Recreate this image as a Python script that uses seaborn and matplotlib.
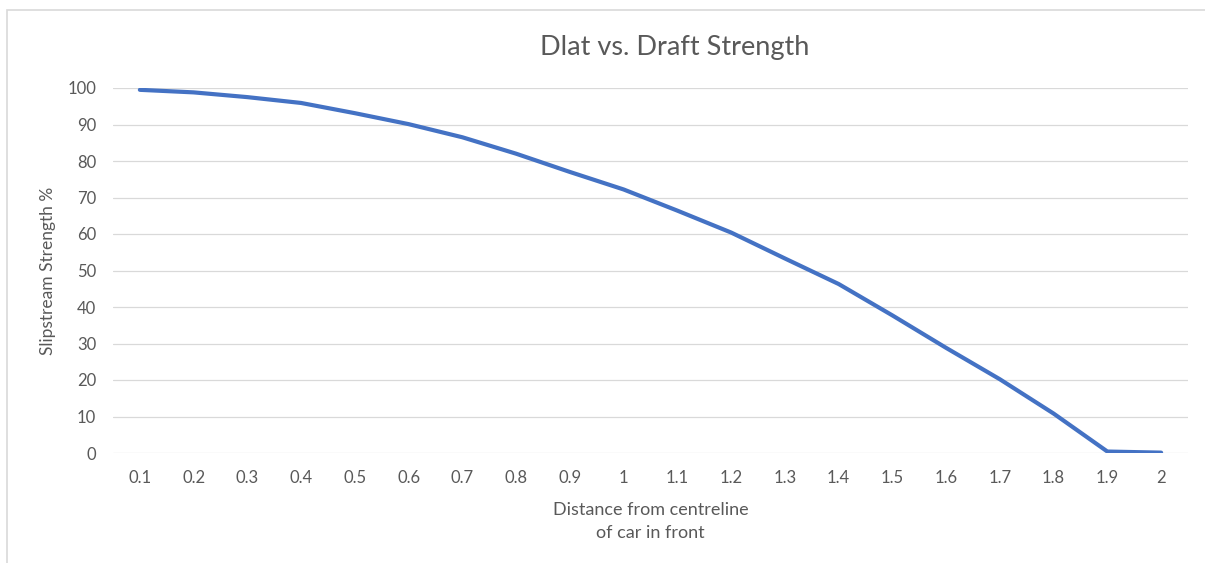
import pandas as pd
import matplotlib
matplotlib.use("Agg")
import matplotlib.pyplot as plt
import seaborn as sns
from matplotlib.patches import Rectangle

# Datos
distancias = ['0.1', '0.2', '0.3', '0.4', '0.5', '0.6', '0.7', '0.8', '0.9', '1',
              '1.1', '1.2', '1.3', '1.4', '1.5', '1.6', '1.7', '1.8', '1.9', '2']
fuerza = [99.5, 98.8, 97.5, 95.9, 93.1, 90.1, 86.5, 82.0, 77.0, 72.2,
          66.4, 60.4, 53.3, 46.3, 37.7, 28.8, 20.2, 10.8, 0.4, 0.1]
y_ticks = [0, 10, 20, 30, 40, 50, 60, 70, 80, 90, 100]

df = pd.DataFrame({'dist': distancias, 'strength': fuerza})

sns.set_theme(style='white')
plt.rcParams['font.family'] = ['Lato', 'DejaVu Sans']
gris = '#595959'

fig = plt.figure(figsize=(12.05, 5.63), dpi=100)
ax = fig.add_axes([113/1205, 1 - 453/563, (1188 - 113)/1205, (453 - 88)/563])

sns.lineplot(data=df, x='dist', y='strength', ax=ax, color='#4472C4',
             linewidth=3.0, sort=False)

ax.set_xlim(-0.5, len(distancias) - 0.5)
ax.set_ylim(0, 100)
ax.set_yticks(y_ticks)
ax.yaxis.grid(True, color='#D9D9D9', linewidth=0.9)
ax.set_axisbelow(True)
for s in ax.spines.values():
    s.set_visible(False)
ax.tick_params(axis='both', length=0, labelsize=12, labelcolor=gris)
ax.tick_params(axis='y', pad=12)
ax.tick_params(axis='x', pad=12)

ax.set_xlabel('Distance from centreline\nof car in front', fontsize=13,
              color=gris, labelpad=12, linespacing=1.5)
ax.set_ylabel('Slipstream Strength %', fontsize=12.5, color=gris, labelpad=8)

fig.text(675/1205, 1 - 48/563, 'Dlat vs. Draft Strength', ha='center',
         va='center', fontsize=19.5, color=gris)

# borde del area del grafico (recortado)
fig.patches.append(Rectangle((7/1205, -0.5), 2, 0.5 + (1 - 10/563),
                             transform=fig.transFigure, fill=False,
                             edgecolor='#D9D9D9', linewidth=1.2))

fig.savefig('out.png', dpi=100, facecolor='white')
